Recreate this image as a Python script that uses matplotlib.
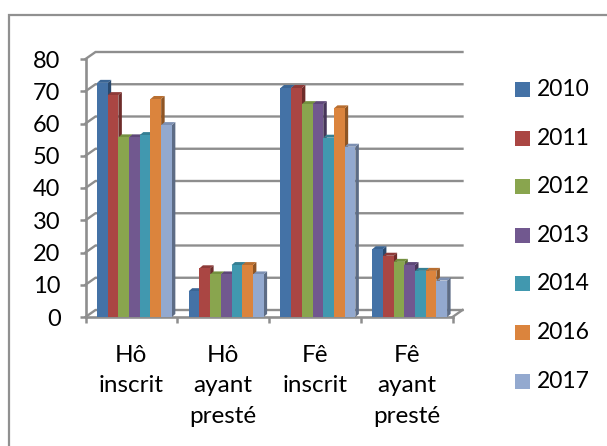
import matplotlib
matplotlib.use("Agg")
import matplotlib.pyplot as plt
from matplotlib.patches import Polygon, Rectangle
import numpy as np

categories = ["Hô\ninscrit", "Hô\nayant\npresté", "Fê\ninscrit", "Fê\nayant\npresté"]
years = ["2010", "2011", "2012", "2013", "2014", "2016", "2017"]
v2010 = [72.6, 8, 71, 21]
v2011 = [68.8, 15.1, 71, 19]
v2012 = [55.7, 13.2, 66, 17.1]
v2013 = [55.7, 13.2, 66, 16.1]
v2014 = [56.4, 16.1, 55.6, 14.3]
v2016 = [67.6, 16.1, 64.7, 14.3]
v2017 = [59.5, 13.2, 52.8, 11.3]
series = [v2010, v2011, v2012, v2013, v2014, v2016, v2017]
colors = ["#4472A6", "#AA4643", "#89A54E", "#71588F", "#4198AF", "#DB843D", "#93A9CF"]
tops = ["#3A6594", "#8E3A38", "#74903F", "#5E4878", "#357F93", "#B86E30", "#7D90B2"]
sides = ["#2A4A6E", "#6E2C2A", "#56692F", "#463659", "#285F6E", "#8E5524", "#5D6C85"]
grid_color = "#8E8E8E"

W, H = 607, 446
plt.rcParams["font.family"] = ["Lato", "DejaVu Sans"]
fig = plt.figure(figsize=(W / 100, H / 100), dpi=100)

# overlay in pixels for the frame and the legend
bg = fig.add_axes([0, 0, 1, 1])
bg.set_xlim(0, W)
bg.set_ylim(H, 0)
bg.axis("off")
bg.plot([9, 9, W], [H, 15, 15], color="#909090", lw=1.6, solid_joinstyle="miter")
for i, year in enumerate(years):
    y = 89.5 + i * 48.6
    bg.add_patch(Rectangle((515, y - 7.5), 15, 15, color=colors[i], lw=0))
    bg.text(537, y, year, fontsize=16.5, va="center", ha="left", color="black")

# plot area
left, right, top, bottom = 85.5, 452.5, 59, 317
ax = fig.add_axes([left / W, 1 - bottom / H, (right - left) / W, (bottom - top) / H])
ax.patch.set_alpha(0)
ax.set_xlim(0, 4)
ax.set_ylim(0, 80)
for s in ax.spines.values():
    s.set_visible(False)

px = 4 / (right - left)
py = 80 / (bottom - top)
wall_x = 10 * px
wall_y = 7 * py

yticks = np.arange(0, 81, 10)
for t in yticks:
    ax.plot([0, wall_x, 4 + wall_x], [t, t + wall_y, t + wall_y], color=grid_color, lw=1.7,
            clip_on=False, zorder=1, solid_joinstyle="miter")
ax.plot([4, 4 + wall_x], [0, wall_y], color=grid_color, lw=1.7, clip_on=False, zorder=1)
ax.plot([0, 0], [0, 80], color=grid_color, lw=1.9, clip_on=False, zorder=2)
ax.plot([0, 4], [0, 0], color=grid_color, lw=1.9, clip_on=False, zorder=2)

ax.set_yticks(yticks)
ax.set_xticks(np.arange(0, 5))
ax.set_xticklabels([])
ax.set_xticks(np.arange(0.5, 4), minor=True)
ax.set_xticklabels(categories, minor=True, fontsize=17.5, linespacing=1.56, va="top")
ax.tick_params(axis="x", which="major", color=grid_color, width=1.8, length=4.5)
ax.tick_params(axis="x", which="minor", length=0, pad=20)
ax.tick_params(axis="y", color=grid_color, width=1.8, length=4, pad=14, labelsize=17)

# bars with a small 3D depth
bar_w = 0.1166
start = 0.125
depth_x = 3.5 * px
depth_y = 3 * py
z = 3
for c in range(len(categories)):
    for i, vals in enumerate(series):
        x0 = c + start + i * bar_w
        x1 = x0 + bar_w
        v = vals[c]
        ax.add_patch(Polygon([(x1, 0), (x1 + depth_x, depth_y), (x1 + depth_x, v + depth_y), (x1, v)],
                             closed=True, color=sides[i], lw=0, zorder=z, clip_on=False))
        ax.add_patch(Polygon([(x0, v), (x0 + depth_x, v + depth_y), (x1 + depth_x, v + depth_y), (x1, v)],
                             closed=True, color=tops[i], lw=0, zorder=z, clip_on=False))
        ax.add_patch(Rectangle((x0, 0), bar_w, v, color=colors[i], lw=0, zorder=z + 0.5, clip_on=False))
        z += 1

fig.savefig("out.png", dpi=100)
